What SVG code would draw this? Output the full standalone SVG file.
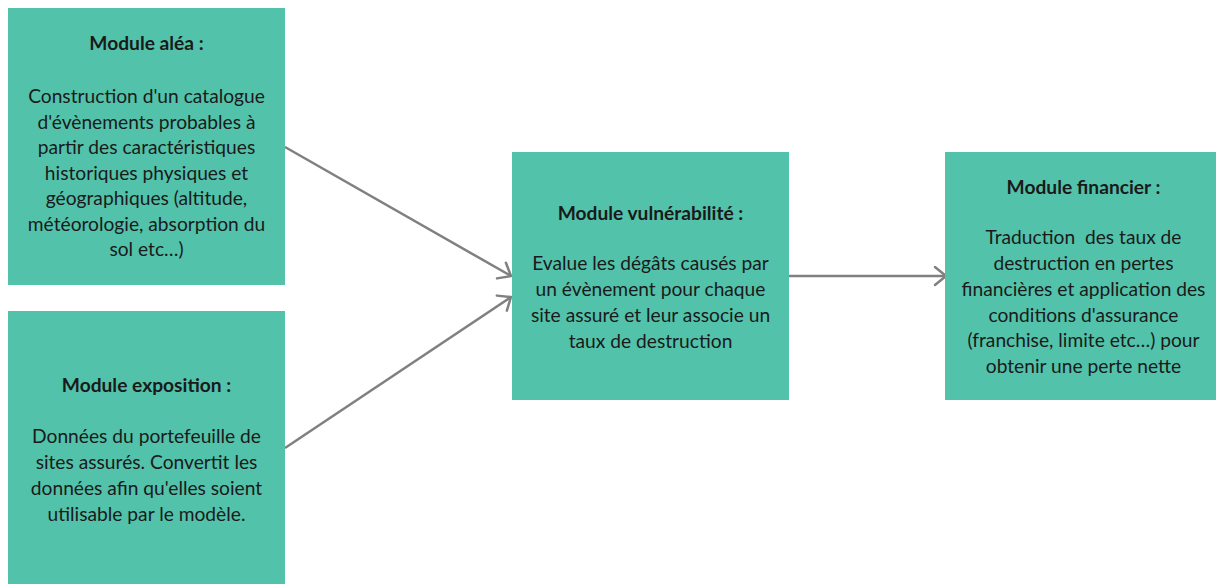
<svg xmlns="http://www.w3.org/2000/svg" width="1216" height="584" viewBox="0 0 1216 584">
  <style>
    .box { fill: #52c2aa; }
    .title { font-family: Lato, "Liberation Sans", sans-serif; font-size: 19.2px; font-weight: bold; fill: #1a1a1a; text-anchor: middle; }
    .body { font-family: Lato, "Liberation Sans", sans-serif; font-size: 19.2px; fill: #1a1a1a; text-anchor: middle; white-space: pre; }
    .link { stroke: #808080; stroke-width: 2.5; fill: none; marker-end: url(#chevron); }
  </style>
  <defs>
    <marker id="chevron" viewBox="0 0 16 22" refX="13" refY="11" markerWidth="16" markerHeight="22" markerUnits="userSpaceOnUse" orient="auto">
      <path d="M2,2 L13,11 L2,20" fill="none" stroke="#808080" stroke-width="2.5" stroke-linecap="round" stroke-linejoin="round"/>
    </marker>
  </defs>
  <rect width="1216" height="584" fill="#ffffff"/>

  <g id="connectors">
    <line class="link" x1="285" y1="147" x2="511" y2="276"/>
    <line class="link" x1="285" y1="448" x2="511" y2="297"/>
    <line class="link" x1="789" y1="276" x2="946" y2="276"/>
  </g>

  <g id="module-alea">
    <rect class="box" x="8" y="8" width="277" height="277"/>
    <text class="title" x="146.5" y="50">Module aléa :</text>
    <text class="body" x="146.5" y="103">Construction d'un catalogue</text>
    <text class="body" x="146.5" y="128.5">d'évènements probables à</text>
    <text class="body" x="146.5" y="154">partir des caractéristiques</text>
    <text class="body" x="146.5" y="179.5">historiques physiques et</text>
    <text class="body" x="146.5" y="205">géographiques (altitude,</text>
    <text class="body" x="146.5" y="230.5">météorologie, absorption du</text>
    <text class="body" x="146.5" y="256">sol etc…)</text>
  </g>

  <g id="module-exposition">
    <rect class="box" x="8" y="311" width="277" height="277"/>
    <text class="title" x="146.5" y="392">Module exposition :</text>
    <text class="body" x="146.5" y="443">Données du portefeuille de</text>
    <text class="body" x="146.5" y="469">sites assurés. Convertit les</text>
    <text class="body" x="146.5" y="495">données afin qu'elles soient</text>
    <text class="body" x="146.5" y="521">utilisable par le modèle.</text>
  </g>

  <g id="module-vulnerabilite">
    <rect class="box" x="512" y="152" width="277" height="248"/>
    <text class="title" x="650.5" y="220">Module vulnérabilité :</text>
    <text class="body" x="650.5" y="270">Evalue les dégâts causés par</text>
    <text class="body" x="650.5" y="296">un évènement pour chaque</text>
    <text class="body" x="650.5" y="322">site assuré et leur associe un</text>
    <text class="body" x="650.5" y="348">taux de destruction</text>
  </g>

  <g id="module-financier">
    <rect class="box" x="945" y="152" width="277" height="248"/>
    <text class="title" x="1083.5" y="194">Module financier :</text>
    <text class="body" x="1083.5" y="244">Traduction  des taux de</text>
    <text class="body" x="1083.5" y="270">destruction en pertes</text>
    <text class="body" x="1083.5" y="296">financières et application des</text>
    <text class="body" x="1083.5" y="322">conditions d'assurance</text>
    <text class="body" x="1083.5" y="347">(franchise, limite etc…) pour</text>
    <text class="body" x="1083.5" y="373">obtenir une perte nette</text>
  </g>
</svg>
